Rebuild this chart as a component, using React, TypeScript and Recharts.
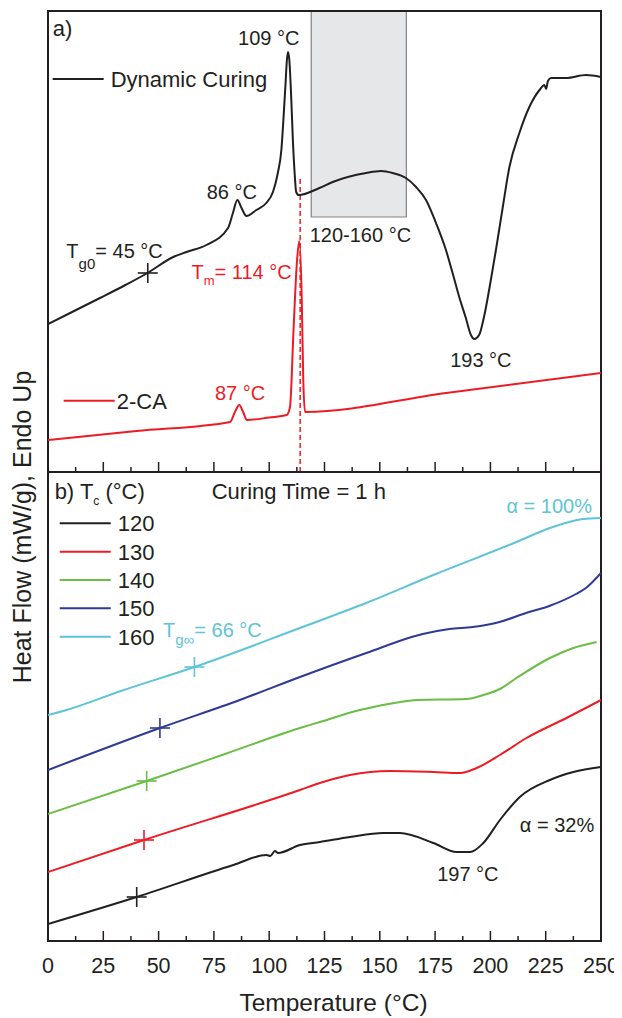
import React from 'react';
import {
  ComposedChart,
  Line,
  XAxis,
  YAxis,
  ReferenceArea,
  ReferenceLine,
  Scatter,
  Label,
} from 'recharts';

const FONT = '"Liberation Sans", Arial, Helvetica, sans-serif';
const INK = '#231f20';
const RED = '#ed1c24';
const GREEN = '#6abd45';
const BLUE = '#2e3a94';
const CYAN = '#5ec4d8';
const BOX_FILL = '#e6e7e8';
const BOX_STROKE = '#808285';

// ---------- x axis ----------
const tickValues = [0, 12.5, 25, 37.5, 50, 62.5, 75, 87.5, 100, 112.5, 125, 137.5, 150, 162.5, 175, 187.5, 200, 212.5, 225, 237.5, 250];
const xDomain: [number, number] = [0, 250];
const yDomainA: [number, number] = [0, 4.61];
const yDomainB: [number, number] = [0, 4.69];

// ---------- panel a) ----------
const dynamicT = [0, 10, 23.5, 35, 45, 56.6, 62.6, 71.6, 81.4, 83.6, 85.6, 87.5, 89.7, 94.2, 98.7, 101.7, 103.9, 105.5, 106.5, 107.4, 108, 108.5, 109.1, 110, 110.7, 111.5, 112.2, 113.3, 122.7, 128.7, 143.8, 150.6, 155.8, 161.8, 166.4, 170.9, 175.4, 179.9, 182.9, 185.9, 188.9, 191.2, 192.7, 194.9, 197.1, 200.2, 202.5, 205.6, 208.6, 213.1, 217.6, 222.2, 224.4, 225.2, 226, 227.4, 234.2, 243.2, 250];
const dynamicHF = [1.48, 1.59, 1.74, 1.87, 1.99, 2.15, 2.2, 2.27, 2.44, 2.59, 2.72, 2.64, 2.56, 2.62, 2.69, 2.8, 2.99, 3.22, 3.55, 3.89, 4.12, 4.2, 4.12, 3.72, 3.32, 2.99, 2.8, 2.77, 2.84, 2.9, 2.99, 3.01, 2.99, 2.94, 2.85, 2.72, 2.49, 2.22, 1.99, 1.75, 1.54, 1.37, 1.33, 1.37, 1.55, 1.92, 2.22, 2.65, 3.05, 3.39, 3.65, 3.82, 3.87, 3.83, 3.91, 3.94, 3.94, 3.97, 3.95];

const caT = [0, 40, 82.3, 84.5, 86.5, 88.2, 89.9, 100, 107.9, 109.4, 111, 112.5, 113.6, 114.7, 115.4, 116.2, 180, 250];
const caHF = [0.32, 0.41, 0.5, 0.6, 0.67, 0.6, 0.52, 0.545, 0.57, 0.65, 1.42, 2.09, 2.31, 1.75, 0.92, 0.6, 0.79, 0.99];

const tmT = 114;
const tmTop = 2.95;
const boxRange = { x1: 119, x2: 162, y1: 2.55, y2: 4.61 };

// ---------- panel b) ----------
const c160T = [0, 8.4, 33, 66.2, 113.9, 143.8, 174.2, 211.8, 226.9, 241.9, 250];
const c160HF = [2.26, 2.31, 2.5, 2.74, 3.13, 3.38, 3.66, 3.99, 4.13, 4.22, 4.23];

const c150T = [0, 50.6, 86.7, 113.9, 143.9, 169.4, 181.5, 192, 204.1, 216.1, 226.6, 238.7, 243.2, 250];
const c150HF = [1.71, 2.13, 2.41, 2.64, 2.88, 3.07, 3.12, 3.14, 3.19, 3.28, 3.35, 3.47, 3.53, 3.68];

const c140T = [0, 44.6, 80, 113.9, 122.9, 141, 159.2, 166.7, 189.3, 196.8, 204.3, 211.8, 226.9, 237.5, 248];
const c140HF = [1.27, 1.6, 1.87, 2.13, 2.19, 2.31, 2.39, 2.41, 2.42, 2.46, 2.52, 2.63, 2.83, 2.93, 2.99];

const c130T = [0, 43.4, 113.9, 122.9, 136.5, 154.6, 174.2, 186.3, 193.8, 204.3, 216.3, 234.4, 250];
const c130HF = [0.69, 1.01, 1.51, 1.58, 1.66, 1.7, 1.69, 1.68, 1.73, 1.86, 2.03, 2.23, 2.41];

const c120T = [0, 40.1, 83.8, 98.8, 100.5, 102.6, 104, 113.9, 122.9, 136.5, 151.5, 159.1, 174.2, 184.7, 190.8, 196.8, 204.3, 213.3, 226.9, 237.5, 250];
const c120HF = [0.17, 0.44, 0.76, 0.86, 0.85, 0.9, 0.88, 0.96, 0.99, 1.04, 1.08, 1.08, 0.98, 0.89, 0.89, 0.98, 1.21, 1.44, 1.61, 1.69, 1.74];

// Tg markers (crosses)
const crossesA = [{ x: 45.1, y: 1.99, color: INK }];
const crossesB = [
  { x: 40.1, y: 0.44, color: INK },
  { x: 43.4, y: 1.01, color: RED },
  { x: 44.6, y: 1.6, color: GREEN },
  { x: 50.6, y: 2.13, color: BLUE },
  { x: 66.2, y: 2.74, color: CYAN },
];

// legends
const legendA = [
  { x: 2.1, y: 3.93, label: 'Dynamic Curing', color: INK, gap: 58 },
  { x: 7.1, y: 0.713, label: '2-CA', color: RED, gap: 53 },
];
const legendB = [
  { x: 5.3, y: 4.177, label: '120', color: INK, gap: 58 },
  { x: 5.3, y: 3.893, label: '130', color: RED, gap: 58 },
  { x: 5.3, y: 3.61, label: '140', color: GREEN, gap: 58 },
  { x: 5.3, y: 3.327, label: '150', color: BLUE, gap: 58 },
  { x: 5.3, y: 3.043, label: '160', color: CYAN, gap: 58 },
];

type Part = { t: string; sub?: number; size?: number };
type Note = { x: number; y: number; parts: Part[]; anchor?: 'start' | 'middle' | 'end'; color?: string; size?: number };

const notesA: Note[] = [
  { x: 2.1, y: 4.36, parts: [{ t: 'a)' }], size: 22 },
  { x: 99.8, y: 4.27, parts: [{ t: '109 °C' }], anchor: 'middle' },
  { x: 83.1, y: 2.73, parts: [{ t: '86 °C' }], anchor: 'middle' },
  { x: 118.3, y: 2.3, parts: [{ t: '120-160 °C' }] },
  { x: 195.7, y: 1.05, parts: [{ t: '193 °C' }], anchor: 'middle' },
  { x: 8.3, y: 2.14, parts: [{ t: 'T' }, { t: 'g0', sub: 11, size: 15 }, { t: '= 45 °C' }] },
  { x: 64.9, y: 1.93, parts: [{ t: 'T' }, { t: 'm', sub: 6, size: 13 }, { t: '= 114 °C' }], color: RED },
  { x: 86.8, y: 0.72, parts: [{ t: '87 °C' }], anchor: 'middle', color: RED },
];

const notesB: Note[] = [
  { x: 3.0, y: 4.42, parts: [{ t: 'b) T' }, { t: 'c', sub: 6, size: 12 }, { t: ' (°C)' }], size: 22 },
  { x: 74.0, y: 4.42, parts: [{ t: 'Curing Time = 1 h' }], size: 22 },
  { x: 245.9, y: 4.28, parts: [{ t: 'α = 100%' }], anchor: 'end', color: CYAN },
  { x: 52.0, y: 3.04, parts: [{ t: 'T' }, { t: 'g∞', sub: 8, size: 15 }, { t: '= 66 °C' }], color: CYAN },
  { x: 213.3, y: 1.09, parts: [{ t: 'α = 32%' }] },
  { x: 189.8, y: 0.6, parts: [{ t: '197 °C' }], anchor: 'middle' },
];

const zip = (xs: number[], ys: number[]) => xs.map((x, i) => ({ x, y: ys[i] }));

const seriesA = [
  { name: 'Dynamic Curing', data: zip(dynamicT, dynamicHF), color: INK },
  { name: '2-CA', data: zip(caT, caHF), color: RED },
];
const seriesB = [
  { name: '120', data: zip(c120T, c120HF), color: INK },
  { name: '130', data: zip(c130T, c130HF), color: RED },
  { name: '140', data: zip(c140T, c140HF), color: GREEN },
  { name: '150', data: zip(c150T, c150HF), color: BLUE },
  { name: '160', data: zip(c160T, c160HF), color: CYAN },
];

// ---------- shapes ----------
const makeTick = (showLabel: boolean) => (props: any) => {
  const { x, y, payload } = props;
  const v = payload.value;
  const major = Math.abs(v % 25) < 1e-6;
  return (
    <g>
      <line x1={x} x2={x} y1={y} y2={y - (major ? 10 : 5)} stroke={INK} strokeWidth={1.5} />
      {showLabel && major && (
        <text x={x} y={y + 32} textAnchor="middle" fontSize={21.5} fill={INK} fontFamily={FONT}>
          {v}
        </text>
      )}
    </g>
  );
};

const CrossShape = (p: any) => {
  const c = p.payload?.color || INK;
  const { cx, cy } = p;
  return (
    <g>
      <line x1={cx - 10} x2={cx + 10} y1={cy} y2={cy} stroke={c} strokeWidth={1.6} />
      <line x1={cx} x2={cx} y1={cy - 10} y2={cy + 10} stroke={c} strokeWidth={1.6} />
    </g>
  );
};

const NoteShape = (p: any) => {
  const n: Note = p.payload;
  const size = n.size ?? 20;
  let shift = 0;
  return (
    <text
      x={p.cx}
      y={p.cy}
      textAnchor={n.anchor ?? 'start'}
      fontSize={size}
      fill={n.color ?? INK}
      fontFamily={FONT}
    >
      {n.parts.map((part, i) => {
        const target = part.sub ?? 0;
        const dy = target - shift;
        shift = target;
        return (
          <tspan key={i} dy={dy} fontSize={part.size ?? size}>
            {part.t}
          </tspan>
        );
      })}
    </text>
  );
};

const LegendShape = (p: any) => {
  const it = p.payload;
  const { cx, cy } = p;
  return (
    <g>
      <line x1={cx} x2={cx + 51} y1={cy} y2={cy} stroke={it.color} strokeWidth={2} />
      <text x={cx + it.gap} y={cy + 8} fontSize={22} fill={INK} fontFamily={FONT}>
        {it.label}
      </text>
    </g>
  );
};

const W = 614;
const MARGIN_A = { top: 3, right: 21, bottom: 2, left: 40 };
const MARGIN_B = { top: 3, right: 21, bottom: 0, left: 40 };

const PanelA = () => (
  <ComposedChart width={W} height={468} margin={MARGIN_A}>
    <XAxis
      type="number"
      dataKey="x"
      domain={xDomain}
      ticks={tickValues}
      interval={0}
      height={2}
      tickSize={0}
      tickMargin={0}
      axisLine={false}
      tickLine={false}
      tick={makeTick(false)}
      allowDataOverflow
    />
    <YAxis type="number" dataKey="y" domain={yDomainA} hide allowDataOverflow />
    <ReferenceArea
      x1={boxRange.x1}
      x2={boxRange.x2}
      y1={boxRange.y1}
      y2={boxRange.y2}
      fill={BOX_FILL}
      fillOpacity={1}
      stroke={BOX_STROKE}
      strokeWidth={1.2}
    />
    <ReferenceLine
      segment={[{ x: tmT, y: 0 }, { x: tmT, y: tmTop }]}
      stroke={RED}
      strokeWidth={1.5}
      strokeDasharray="5 3"
    />
    {seriesA.map((s) => (
      <Line
        key={s.name}
        name={s.name}
        data={s.data}
        dataKey="y"
        type="monotone"
        stroke={s.color}
        strokeWidth={2}
        dot={false}
        isAnimationActive={false}
      />
    ))}
    <Scatter data={crossesA} dataKey="y" shape={CrossShape} isAnimationActive={false} />
    <Scatter data={notesA} dataKey="y" shape={NoteShape} isAnimationActive={false} />
    <Scatter data={legendA} dataKey="y" shape={LegendShape} isAnimationActive={false} />
    <ReferenceArea
      x1={xDomain[0]}
      x2={xDomain[1]}
      y1={yDomainA[0]}
      y2={yDomainA[1]}
      fill="none"
      stroke={INK}
      strokeWidth={2}
    />
  </ComposedChart>
);

const PanelB = () => (
  <ComposedChart width={W} height={549} margin={MARGIN_B}>
    <XAxis
      type="number"
      dataKey="x"
      domain={xDomain}
      ticks={tickValues}
      interval={0}
      height={77}
      tickSize={0}
      tickMargin={0}
      axisLine={false}
      tickLine={false}
      tick={makeTick(true)}
      allowDataOverflow
    >
      <Label
        content={(props: any) => {
          const vb = props.viewBox || { x: 40, y: 472, width: 553, height: 77 };
          return (
            <text
              x={vb.x + vb.width / 2 + 9}
              y={vb.y + 70}
              textAnchor="middle"
              fontSize={24.5}
              fill={INK}
              fontFamily={FONT}
            >
              Temperature (°C)
            </text>
          );
        }}
      />
    </XAxis>
    <YAxis type="number" dataKey="y" domain={yDomainB} hide allowDataOverflow />
    {seriesB.map((s) => (
      <Line
        key={s.name}
        name={s.name}
        data={s.data}
        dataKey="y"
        type="monotone"
        stroke={s.color}
        strokeWidth={2}
        dot={false}
        isAnimationActive={false}
      />
    ))}
    <Scatter data={crossesB} dataKey="y" shape={CrossShape} isAnimationActive={false} />
    <Scatter data={notesB} dataKey="y" shape={NoteShape} isAnimationActive={false} />
    <Scatter data={legendB} dataKey="y" shape={LegendShape} isAnimationActive={false} />
    <ReferenceArea
      x1={xDomain[0]}
      x2={xDomain[1]}
      y1={yDomainB[0]}
      y2={yDomainB[1]}
      fill="none"
      stroke={INK}
      strokeWidth={2}
    />
  </ComposedChart>
);

export default function App() {
  return (
    <div style={{ position: 'relative', width: W, height: 1010, fontFamily: FONT }}>
      <div style={{ position: 'absolute', left: 0, top: 0 }}>
        <PanelA />
      </div>
      <div style={{ position: 'absolute', left: 0, top: 461 }}>
        <PanelB />
      </div>
      <svg
        width={40}
        height={1005}
        style={{ position: 'absolute', left: 0, top: 0, pointerEvents: 'none', overflow: 'visible' }}
      >
        <text
          transform="translate(23,519) rotate(-90)"
          textAnchor="middle"
          fontSize={25}
          fill={INK}
          fontFamily={FONT}
        >
          Heat Flow (mW/g), Endo Up
        </text>
      </svg>
    </div>
  );
}
